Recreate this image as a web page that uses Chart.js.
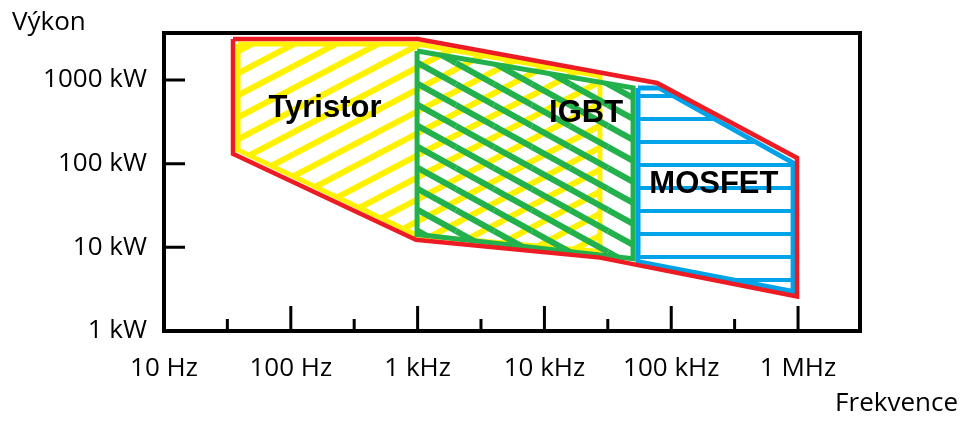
<!DOCTYPE html>
<html>
<head>
<meta charset="utf-8">
<script src="https://cdn.jsdelivr.net/npm/chart.js@4.4.1/dist/chart.umd.min.js"></script>
<style>
  html, body { margin: 0; padding: 0; background: #fff; }
  canvas { display: block; }
</style>
</head>
<body>
<canvas id="chart" width="970" height="424"></canvas>
<script>
// axes: frequency in Hz, power in kW
const freqTicks = [10, 100, 1000, 10000, 100000, 1000000];
const freqLabels = ['10 Hz', '100 Hz', '1 kHz', '10 kHz', '100 kHz', '1 MHz'];
const freqMinorTicks = [31.6, 316, 3160, 31600, 316000];
const powerTicks = [1, 10, 100, 1000];
const powerLabels = ['1 kW', '10 kW', '100 kW', '1000 kW'];

// region outlines (Hz, kW)
const tyristorFreq = [38.4, 1000, 27400, 27400, 1000, 38.4, 38.4];
const tyristorPower = [2690, 2690, 1117, 8.9, 13.8, 146, 2690];
const igbtFreq = [990, 50000, 50000, 1000, 990];
const igbtPower = [2218, 804, 7.3, 14.2, 2218];
const mosfetFreq = [54700, 80200, 914000, 914000, 54700, 54700];
const mosfetPower = [804, 804, 102, 2.96, 6.75, 804];
const envelopeFreq = [35, 1000, 77300, 982000, 982000, 27400, 970, 35, 35];
const envelopePower = [3085, 3085, 921, 117, 2.58, 7.53, 12.3, 131, 3085];

const regionNames = ['Tyristor', 'IGBT', 'MOSFET'];
const regionLabelFreq = [186, 21300, 217000];
const regionLabelPower = [460, 393, 56];

const toPoints = (xs, ys) => xs.map((v, i) => ({ x: v, y: ys[i] }));

// hatch patterns like in the paint drawing
function hatch(w, h, color, width, draw) {
  const c = document.createElement('canvas');
  c.width = w;
  c.height = h;
  const g = c.getContext('2d');
  g.strokeStyle = color;
  g.lineWidth = width;
  for (let i = -1; i <= 1; i++) {
    for (let j = -1; j <= 1; j++) {
      g.beginPath();
      draw(g, i * w, j * h, w, h);
      g.stroke();
    }
  }
  return g.createPattern(c, 'repeat');
}

const yellowHatch = hatch(42, 22, '#FFF200', 6, (g, ox, oy, w, h) => {
  g.moveTo(ox, oy + h);
  g.lineTo(ox + w, oy);
});
const greenHatch = hatch(38, 21, '#22B14C', 6, (g, ox, oy, w, h) => {
  g.moveTo(ox, oy);
  g.lineTo(ox + w, oy + h);
});
const blueHatch = (() => {
  const c = document.createElement('canvas');
  c.width = 8;
  c.height = 23;
  const g = c.getContext('2d');
  g.fillStyle = '#00A2E8';
  g.fillRect(0, 2, 8, 4);
  return g.createPattern(c, 'repeat');
})();

const decorations = {
  id: 'decorations',
  afterDatasetsDraw(chart) {
    const { ctx, chartArea: a, scales: { x, y } } = chart;
    ctx.save();
    ctx.fillStyle = '#000';
    ctx.textAlign = 'center';
    ctx.textBaseline = 'middle';
    ctx.font = 'bold 31px "Liberation Sans", Arial, sans-serif';
    regionNames.forEach((n, i) => {
      ctx.fillText(n, x.getPixelForValue(regionLabelFreq[i]), y.getPixelForValue(regionLabelPower[i]));
    });

    // frame
    ctx.strokeStyle = '#000';
    ctx.lineWidth = 4;
    ctx.strokeRect(a.left, a.top, a.right - a.left, a.bottom - a.top);

    // inward ticks
    ctx.lineWidth = 3;
    ctx.beginPath();
    freqTicks.slice(1).forEach(v => {
      const px = x.getPixelForValue(v);
      ctx.moveTo(px, a.bottom);
      ctx.lineTo(px, a.bottom - 25);
    });
    freqMinorTicks.forEach(v => {
      const px = x.getPixelForValue(v);
      ctx.moveTo(px, a.bottom);
      ctx.lineTo(px, a.bottom - 12);
    });
    powerTicks.slice(1).forEach(v => {
      const py = y.getPixelForValue(v);
      ctx.moveTo(a.left, py);
      ctx.lineTo(a.left + 21, py);
    });
    ctx.stroke();

    // axis names
    ctx.font = '26px "Open Sans", sans-serif';
    ctx.textAlign = 'left';
    ctx.fillText('Výkon', 12, 23);
    ctx.textAlign = 'right';
    ctx.fillText('Frekvence', 958, 404);
    ctx.restore();
  }
};

const ctx = document.getElementById('chart').getContext('2d');
new Chart(ctx, {
  type: 'line',
  data: {
    datasets: [
      {
        label: 'Obrys',
        data: toPoints(envelopeFreq, envelopePower),
        borderColor: '#ED1C24',
        borderWidth: 4.5,
        fill: false,
        order: 1,
      },
      {
        label: 'MOSFET',
        data: toPoints(mosfetFreq, mosfetPower),
        borderColor: '#00A2E8',
        borderWidth: 5,
        backgroundColor: blueHatch,
        fill: 'shape',
        order: 2,
      },
      {
        label: 'IGBT',
        data: toPoints(igbtFreq, igbtPower),
        borderColor: '#22B14C',
        borderWidth: 5,
        backgroundColor: greenHatch,
        fill: 'shape',
        order: 3,
      },
      {
        label: 'Tyristor',
        data: toPoints(tyristorFreq, tyristorPower),
        borderColor: '#FFF200',
        borderWidth: 5,
        backgroundColor: yellowHatch,
        fill: 'shape',
        order: 4,
      },
    ],
  },
  options: {
    responsive: false,
    animation: false,
    devicePixelRatio: 1,
    layout: { padding: { top: 33, right: 110, bottom: 0, left: 0 } },
    elements: {
      point: { radius: 0, hoverRadius: 0 },
      line: { tension: 0 },
    },
    plugins: {
      legend: { display: false },
      tooltip: { enabled: false },
    },
    scales: {
      x: {
        type: 'logarithmic',
        min: 10,
        max: 3080000,
        grid: { display: false, drawTicks: false },
        border: { display: false },
        afterBuildTicks: s => { s.ticks = freqTicks.map(v => ({ value: v })); },
        afterFit: s => { s.height = 93; },
        ticks: {
          autoSkip: false,
          maxRotation: 0,
          padding: 22,
          color: '#000',
          font: { family: '"Open Sans", sans-serif', size: 26 },
          callback: (v, i) => freqLabels[i],
        },
      },
      y: {
        type: 'logarithmic',
        min: 1,
        max: 3640,
        grid: { display: false, drawTicks: false },
        border: { display: false },
        afterBuildTicks: s => { s.ticks = powerTicks.map(v => ({ value: v })); },
        afterFit: s => { s.width = 164; },
        ticks: {
          autoSkip: false,
          padding: 17,
          color: '#000',
          font: { family: '"Open Sans", sans-serif', size: 26 },
          callback: (v, i) => powerLabels[i],
        },
      },
    },
  },
  plugins: [decorations],
});
</script>
</body>
</html>
